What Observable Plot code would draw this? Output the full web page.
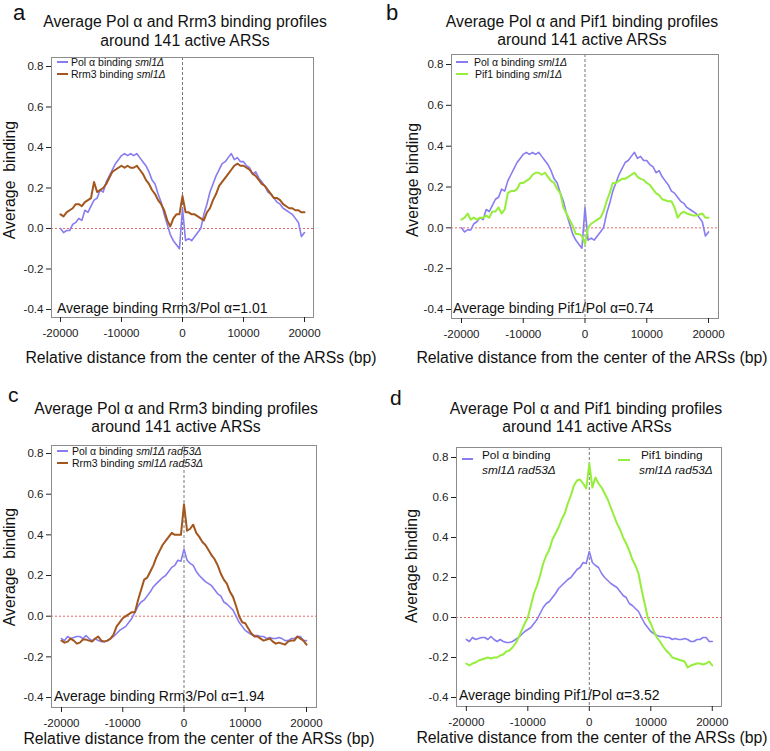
<!DOCTYPE html>
<html><head><meta charset="utf-8">
<script src="https://cdn.jsdelivr.net/npm/d3@7"></script>
<script src="https://cdn.jsdelivr.net/npm/@observablehq/plot@0.6"></script>
<style>
html,body{margin:0;padding:0;background:#fff;}
#page{position:relative;width:770px;height:751px;font-family:"Liberation Sans",Arial,Helvetica,sans-serif;color:#111;overflow:hidden}
.t{position:absolute;white-space:nowrap}
.panel{position:absolute}
.dash{position:absolute;height:0;border-top-style:solid}
</style></head><body><div id="page"></div>
<script>
// ---- data ----
const positions = d3.range(-20000, 20001, 500); // bp, relative to ARS centre
const xTicks = [-20000, -10000, 0, 10000, 20000];
const yTicks = [-0.4, -0.2, 0.0, 0.2, 0.4, 0.6, 0.8];

const polA_sml1 = [
 0.00,-0.02,-0.01,-0.01,0.02,0.03,0.05,0.04,0.09,0.08,
 0.11,0.14,0.15,0.19,0.18,0.23,0.26,0.29,0.32,0.34,
 0.36,0.37,0.36,0.37,0.36,0.37,0.35,0.33,0.31,0.28,
 0.24,0.22,0.17,0.13,0.07,0.02,-0.03,-0.06,-0.08,-0.10,
 0.10,-0.06,-0.05,-0.06,-0.04,-0.02,0.00,0.07,0.12,0.18,
 0.22,0.26,0.29,0.32,0.33,0.35,0.37,0.34,0.35,0.33,
 0.33,0.31,0.30,0.27,0.28,0.25,0.23,0.21,0.18,0.17,
 0.15,0.13,0.12,0.10,0.09,0.08,0.07,0.05,0.03,-0.04,
 -0.02];
const rrm3_sml1 = [
 0.07,0.06,0.08,0.09,0.10,0.12,0.12,0.11,0.13,0.14,
 0.15,0.23,0.18,0.19,0.20,0.22,0.25,0.28,0.29,0.30,
 0.31,0.30,0.31,0.30,0.30,0.31,0.29,0.27,0.24,0.22,
 0.19,0.17,0.14,0.12,0.09,0.04,0.01,0.05,0.07,0.07,
 0.16,0.08,0.08,0.07,0.07,0.06,0.05,0.04,0.08,0.10,
 0.14,0.17,0.21,0.23,0.25,0.27,0.29,0.31,0.32,0.31,
 0.31,0.30,0.29,0.27,0.26,0.24,0.22,0.21,0.19,0.17,
 0.15,0.15,0.14,0.12,0.11,0.10,0.10,0.09,0.09,0.08,
 0.08];
const pif1_sml1 = [
 0.04,0.05,0.07,0.04,0.05,0.04,0.05,0.05,0.06,0.05,
 0.08,0.08,0.10,0.07,0.09,0.17,0.18,0.18,0.19,0.22,
 0.22,0.23,0.24,0.26,0.27,0.27,0.26,0.27,0.25,0.23,
 0.22,0.19,0.17,0.10,0.07,0.04,0.01,-0.03,-0.03,-0.04,
 -0.08,0.00,0.02,0.03,0.04,0.05,0.08,0.13,0.17,0.22,
 0.22,0.23,0.24,0.24,0.25,0.26,0.27,0.25,0.24,0.235,
 0.22,0.21,0.19,0.17,0.16,0.14,0.135,0.13,0.13,0.10,
 0.05,0.07,0.08,0.07,0.065,0.06,0.06,0.065,0.07,0.05,
 0.05];
const polA_rad53 = [
 -0.11,-0.12,-0.10,-0.11,-0.105,-0.10,-0.10,-0.11,-0.095,-0.11,
 -0.12,-0.11,-0.12,-0.125,-0.125,-0.12,-0.11,-0.10,-0.085,-0.07,
 -0.06,-0.05,-0.03,-0.01,0.02,0.05,0.07,0.08,0.10,0.12,
 0.145,0.16,0.175,0.19,0.20,0.22,0.24,0.25,0.275,0.27,
 0.33,0.275,0.26,0.25,0.22,0.20,0.185,0.17,0.16,0.15,
 0.13,0.11,0.10,0.07,0.06,0.045,0.03,0.00,-0.03,-0.05,
 -0.07,-0.08,-0.09,-0.095,-0.095,-0.10,-0.10,-0.11,-0.105,-0.11,
 -0.11,-0.105,-0.11,-0.12,-0.12,-0.11,-0.11,-0.10,-0.10,-0.12,
 -0.12];
const rrm3_rad53 = [
 -0.12,-0.13,-0.125,-0.11,-0.12,-0.135,-0.13,-0.115,-0.115,-0.12,
 -0.125,-0.11,-0.10,-0.12,-0.125,-0.12,-0.11,-0.09,-0.05,-0.03,
 -0.01,0.00,0.01,0.02,0.02,0.08,0.13,0.18,0.19,0.22,
 0.25,0.29,0.32,0.35,0.37,0.39,0.41,0.40,0.40,0.40,
 0.55,0.42,0.43,0.45,0.41,0.39,0.365,0.35,0.325,0.30,
 0.28,0.25,0.21,0.18,0.16,0.12,0.095,0.05,0.00,-0.03,
 -0.035,-0.06,-0.085,-0.10,-0.10,-0.11,-0.12,-0.115,-0.11,-0.125,
 -0.135,-0.13,-0.135,-0.14,-0.125,-0.12,-0.12,-0.10,-0.11,-0.12,
 -0.14];
const pif1_rad53 = [
 -0.23,-0.24,-0.23,-0.225,-0.215,-0.21,-0.205,-0.20,-0.205,-0.20,
 -0.20,-0.19,-0.185,-0.17,-0.165,-0.15,-0.13,-0.10,-0.065,-0.03,
 0.00,0.06,0.12,0.16,0.21,0.27,0.31,0.34,0.39,0.42,
 0.45,0.49,0.52,0.57,0.61,0.66,0.685,0.69,0.67,0.645,
 0.77,0.65,0.70,0.67,0.65,0.62,0.59,0.55,0.51,0.47,
 0.44,0.40,0.37,0.335,0.29,0.26,0.22,0.14,0.07,0.00,
 -0.03,-0.07,-0.10,-0.12,-0.145,-0.165,-0.18,-0.20,-0.205,-0.21,
 -0.215,-0.22,-0.25,-0.24,-0.235,-0.23,-0.23,-0.235,-0.23,-0.22,
 -0.24];

// ---- styling / layout ----
const BLUE = "#877cf0", BROWN = "#a3561d", GREEN = "#96ee3c";
const FONT = '"Liberation Sans", Arial, Helvetica, sans-serif';
const page = document.getElementById("page");

function toRows(vals){ return positions.map((p,i)=>({pos:p, val:vals[i]})); }

// place text so that its baseline sits at `base`
function txt(x, base, size, html, anchor, lh){
  lh = lh || 1.15;
  const d = document.createElement("div");
  d.className = "t";
  d.style.fontSize = size + "px";
  d.style.lineHeight = lh;
  d.style.left = x + "px";
  d.style.top = (base - (lh/2 + 0.3465)*size) + "px";
  if (anchor === "middle") d.style.transform = "translateX(-50%)";
  d.innerHTML = html;
  page.appendChild(d);
}
function vtxt(cx, cy, size, html){
  const d = document.createElement("div");
  d.className = "t";
  d.style.fontSize = size + "px";
  d.style.lineHeight = 1.15;
  d.style.left = cx + "px";
  d.style.top = cy + "px";
  d.style.transform = "translate(-50%,-50%) rotate(-90deg)";
  d.innerHTML = html;
  page.appendChild(d);
}
function dash(x1, x2, y, color){
  const d = document.createElement("div");
  d.className = "dash";
  d.style.left = x1 + "px";
  d.style.width = (x2-x1) + "px";
  d.style.top = (y-1.25) + "px";
  d.style.borderTopWidth = "2.5px";
  d.style.borderTopColor = color;
  page.appendChild(d);
}

const panels = [
  {left:0, top:0, w:385, h:375, mt:57, mr:72, mb:58, ml:51,
   xd:[-21475,21475], yd:[-0.4395,0.8444],
   series:[[polA_sml1, BLUE, 1.6],[rrm3_sml1, BROWN, 2]]},
  {left:385, top:0, w:385, h:375, mt:54, mr:52, mb:57, ml:66,
   xd:[-21619,21619], yd:[-0.444,0.849],
   series:[[polA_sml1, BLUE, 1.6],[pif1_sml1, GREEN, 2]]},
  {left:0, top:375, w:385, h:376, mt:70, mr:69, mb:44, ml:51,
   xd:[-21633,21633], yd:[-0.449,0.8394],
   series:[[polA_rad53, BLUE, 1.6],[rrm3_rad53, BROWN, 2]]},
  {left:385, top:375, w:385, h:376, mt:72, mr:49, mb:45, ml:71,
   xd:[-21600,21500], yd:[-0.445,0.85],
   series:[[polA_rad53, BLUE, 1.6],[pif1_rad53, GREEN, 2]]}
];

for (const p of panels){
  const marks = [
    Plot.ruleY([0], {stroke:"#e26a66", strokeDasharray:"2,2", strokeWidth:1}),
    Plot.ruleX([0], {stroke:"#777", strokeDasharray:"3,2", strokeWidth:1}),
    ...p.series.map(([vals,color,sw]) => Plot.line(toRows(vals), {x:"pos", y:"val", stroke:color, strokeWidth:sw})),
    Plot.frame({stroke:"#8c8c8c"}),
    Plot.axisX({ticks:xTicks, tickSize:5, tickPadding:6, tickFormat:d=>String(d), label:null, fontSize:11.6}),
    Plot.axisY({ticks:yTicks, tickSize:5, tickPadding:3, tickFormat:d=>d.toFixed(1), label:null, fontSize:11.6})
  ];
  const svg = Plot.plot({
    width:p.w, height:p.h,
    marginTop:p.mt, marginRight:p.mr, marginBottom:p.mb, marginLeft:p.ml,
    x:{domain:p.xd}, y:{domain:p.yd},
    style:{background:"transparent", color:"#222", fontFamily:FONT, fontSize:"11.6px"},
    marks
  });
  svg.classList.add("panel");
  svg.style.left = p.left + "px";
  svg.style.top = p.top + "px";
  page.appendChild(svg);
}

// ---- texts ----
const a = "&alpha;";
// panel letters
txt(13, 20, 22, "a"); txt(386, 20, 22, "b"); txt(8, 402, 21, "c"); txt(390, 405, 21, "d");
// titles
txt(185, 28, 15.8, `Average Pol ${a} and Rrm3 binding profiles`, "middle");
txt(185, 47, 15.8, "around 141 active ARSs", "middle");
txt(582, 27.5, 15.8, `Average Pol ${a} and Pif1 binding profiles`, "middle");
txt(582, 46, 15.8, "around 141 active ARSs", "middle");
txt(176, 415, 15.8, `Average Pol ${a} and Rrm3 binding profiles`, "middle");
txt(176, 433, 15.8, "around 141 active ARSs", "middle");
txt(586, 415, 15.8, `Average Pol ${a} and Pif1 binding profiles`, "middle");
txt(587, 433, 15.8, "around 141 active ARSs", "middle");
// x labels
const xl = "Relative distance from the center of the ARSs (bp)";
txt(201, 364, 15.8, xl, "middle"); txt(592, 364, 15.8, xl, "middle");
txt(199, 745, 15.8, xl, "middle"); txt(592, 744, 15.8, xl, "middle");
// y labels
vtxt(10, 180, 15.8, "Average&nbsp; binding"); vtxt(413, 180, 15.8, "Average binding");
vtxt(9.5, 567, 15.8, "Average&nbsp; binding"); vtxt(412, 566, 15.8, "Average binding");
// annotations
txt(57, 313, 14, `Average binding Rrm3/Pol ${a}=1.01`);
txt(453, 313, 14, `Average binding Pif1/Pol ${a}=0.74`);
txt(54, 701, 14, `Average binding Rrm3/Pol ${a}=1.94`);
txt(459, 700, 14, `Average binding Pif1/Pol ${a}=3.52`);
// legends (line gap large enough that stacked entries do not collide)
const LF = 10.5, LH = 0.82;
dash(57, 68, 62, BLUE);  txt(71, 65.5, LF, `Pol ${a} binding <i>sml1&Delta;</i>`, null, LH);
dash(57, 68, 74, BROWN); txt(71, 77.5, LF, `Rrm3 binding <i>sml1&Delta;</i>`, null, LH);
dash(456, 468, 62, BLUE);  txt(474, 65.5, LF, `Pol ${a} binding <i>sml1&Delta;</i>`, null, LH);
dash(456, 468, 74, GREEN); txt(475, 77.5, LF, `Pif1 binding <i>sml1&Delta;</i>`, null, LH);
dash(57, 68, 451, BLUE);  txt(72, 455, LF, `Pol ${a} binding <i>sml1&Delta; rad53&Delta;</i>`, null, LH);
dash(57, 68, 463, BROWN); txt(72, 467, LF, `Rrm3 binding <i>sml1&Delta; rad53&Delta;</i>`, null, LH);
dash(462, 473, 459, BLUE);  txt(482, 460, 11.8, `Pol ${a} binding`); txt(482, 474.5, 11.8, `<i>sml1&Delta; rad53&Delta;</i>`);
dash(618, 630, 460, GREEN); txt(641, 460, 11.8, `Pif1 binding`); txt(639, 474.5, 11.8, `<i>sml1&Delta; rad53&Delta;</i>`);
</script></body></html>
